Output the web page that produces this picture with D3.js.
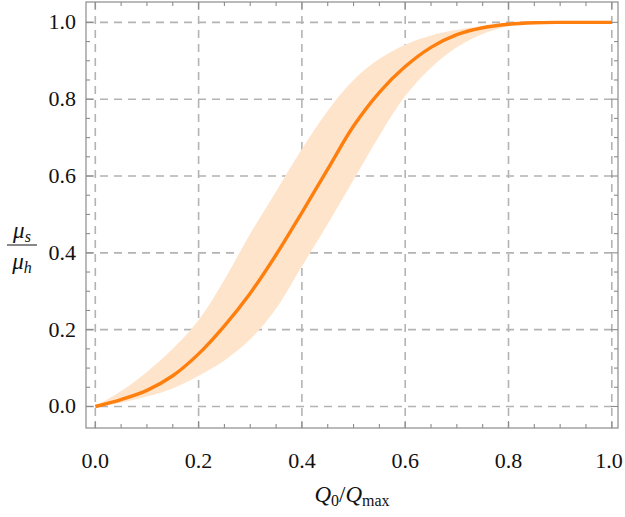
<!DOCTYPE html>
<html><head><meta charset="utf-8">
<script src="https://cdn.jsdelivr.net/npm/d3@7"></script>
<style>html,body{margin:0;padding:0;background:#fff;} svg{display:block;} text{font-family:"Liberation Serif","DejaVu Serif",serif;}</style>
</head><body>
<svg id="c" width="625" height="517"></svg>
<script>
const xs = [0,0.05,0.1,0.15,0.2,0.25,0.3,0.35,0.4,0.45,0.5,0.55,0.6,0.65,0.7,0.75,0.8,0.85,0.9,0.95,1.0];
const central = [0,0.018,0.042,0.08,0.137,0.21,0.295,0.395,0.505,0.618,0.73,0.818,0.885,0.935,0.968,0.986,0.995,0.999,1.0,1.0,1.0];
const upper   = [0,0.04,0.09,0.15,0.225,0.33,0.45,0.56,0.67,0.77,0.85,0.905,0.942,0.966,0.981,0.99,0.997,1.0,1.0,1.0,1.0];
const lower   = [0,0.01,0.026,0.047,0.08,0.12,0.175,0.255,0.365,0.475,0.59,0.705,0.808,0.882,0.935,0.97,0.99,0.997,1.0,1.0,1.0];
const majorTicks = [0,0.2,0.4,0.6,0.8,1.0];
const tickLabels = ["0.0","0.2","0.4","0.6","0.8","1.0"];

const svg = d3.select("#c");
const FL=86, FR=618, FT=2, FB=428;
const x = d3.scaleLinear().domain([-0.018,1.012]).range([FL,FR]);
const y = d3.scaleLinear().domain([-0.056,1.053]).range([FB,FT]);

const g = svg.append("g");
majorTicks.forEach(t=>{
  g.append("line").attr("x1",x(t)).attr("x2",x(t)).attr("y1",FT).attr("y2",FB)
   .attr("stroke","#b3b3b3").attr("stroke-width",1.6).attr("stroke-dasharray","8,6");
  g.append("line").attr("x1",FL).attr("x2",FR).attr("y1",y(t)).attr("y2",y(t))
   .attr("stroke","#b3b3b3").attr("stroke-width",1.6).attr("stroke-dasharray","8,6");
});

const data = xs.map((v,i)=>({x:v,c:central[i],u:upper[i],l:lower[i]}));
svg.append("path").datum(data)
  .attr("d", d3.area().x(d=>x(d.x)).y0(d=>y(d.l)).y1(d=>y(d.u)).curve(d3.curveCatmullRom))
  .attr("fill","#ffe4cc").attr("stroke","none");
svg.append("path").datum(data)
  .attr("d", d3.line().x(d=>x(d.x)).y(d=>y(d.c)).curve(d3.curveCatmullRom))
  .attr("fill","none").attr("stroke","#ff7f0e").attr("stroke-width",3.4);

const fc = "#8c8c8c";
svg.append("rect").attr("x",FL).attr("y",FT).attr("width",FR-FL).attr("height",FB-FT)
  .attr("fill","none").attr("stroke",fc).attr("stroke-width",1.2);

const minor = d3.range(0,21).map(i=>i*0.05);
const isMajor = t => majorTicks.some(m=>Math.abs(m-t)<1e-9);
minor.forEach(t=>{
  const L = isMajor(t)?7:4;
  const tk = svg.append("g").attr("stroke",fc).attr("stroke-width",1.1);
  tk.append("line").attr("x1",x(t)).attr("x2",x(t)).attr("y1",FB).attr("y2",FB-L);
  tk.append("line").attr("x1",x(t)).attr("x2",x(t)).attr("y1",FT).attr("y2",FT+L);
  tk.append("line").attr("x1",FL).attr("x2",FL+L).attr("y1",y(t)).attr("y2",y(t));
  tk.append("line").attr("x1",FR).attr("x2",FR-L).attr("y1",y(t)).attr("y2",y(t));
});

majorTicks.forEach((t,i)=>{
  svg.append("text").attr("x",Math.min(x(t), 609)).attr("y",FB+40).attr("text-anchor","middle")
    .attr("font-size",22).attr("fill","#111").text(tickLabels[i]);
  svg.append("text").attr("x",FL-10).attr("y",y(t)+7).attr("text-anchor","end")
    .attr("font-size",22).attr("fill","#111").text(tickLabels[i]);
});

const xl = svg.append("text").attr("x",352).attr("y",502).attr("text-anchor","middle")
  .attr("font-size",23).attr("fill","#111");
xl.append("tspan").attr("font-style","italic").text("Q");
xl.append("tspan").attr("font-size",16).attr("dy",4).text("0");
xl.append("tspan").attr("dy",-4).text("/");
xl.append("tspan").attr("font-style","italic").text("Q");
xl.append("tspan").attr("font-size",16).attr("dy",4).text("max");

const yl = svg.append("g");
const t1 = yl.append("text").attr("x",22).attr("y",238).attr("text-anchor","middle")
  .attr("font-size",23).attr("fill","#111");
t1.append("tspan").attr("font-style","italic").text("μ");
t1.append("tspan").attr("font-style","italic").attr("font-size",16).attr("dy",4).text("s");
yl.append("line").attr("x1",7).attr("x2",37).attr("y1",245).attr("y2",245).attr("stroke","#111").attr("stroke-width",1);
const t2 = yl.append("text").attr("x",22).attr("y",269).attr("text-anchor","middle")
  .attr("font-size",23).attr("fill","#111");
t2.append("tspan").attr("font-style","italic").text("μ");
t2.append("tspan").attr("font-style","italic").attr("font-size",16).attr("dy",4).text("h");
</script>
</body></html>
